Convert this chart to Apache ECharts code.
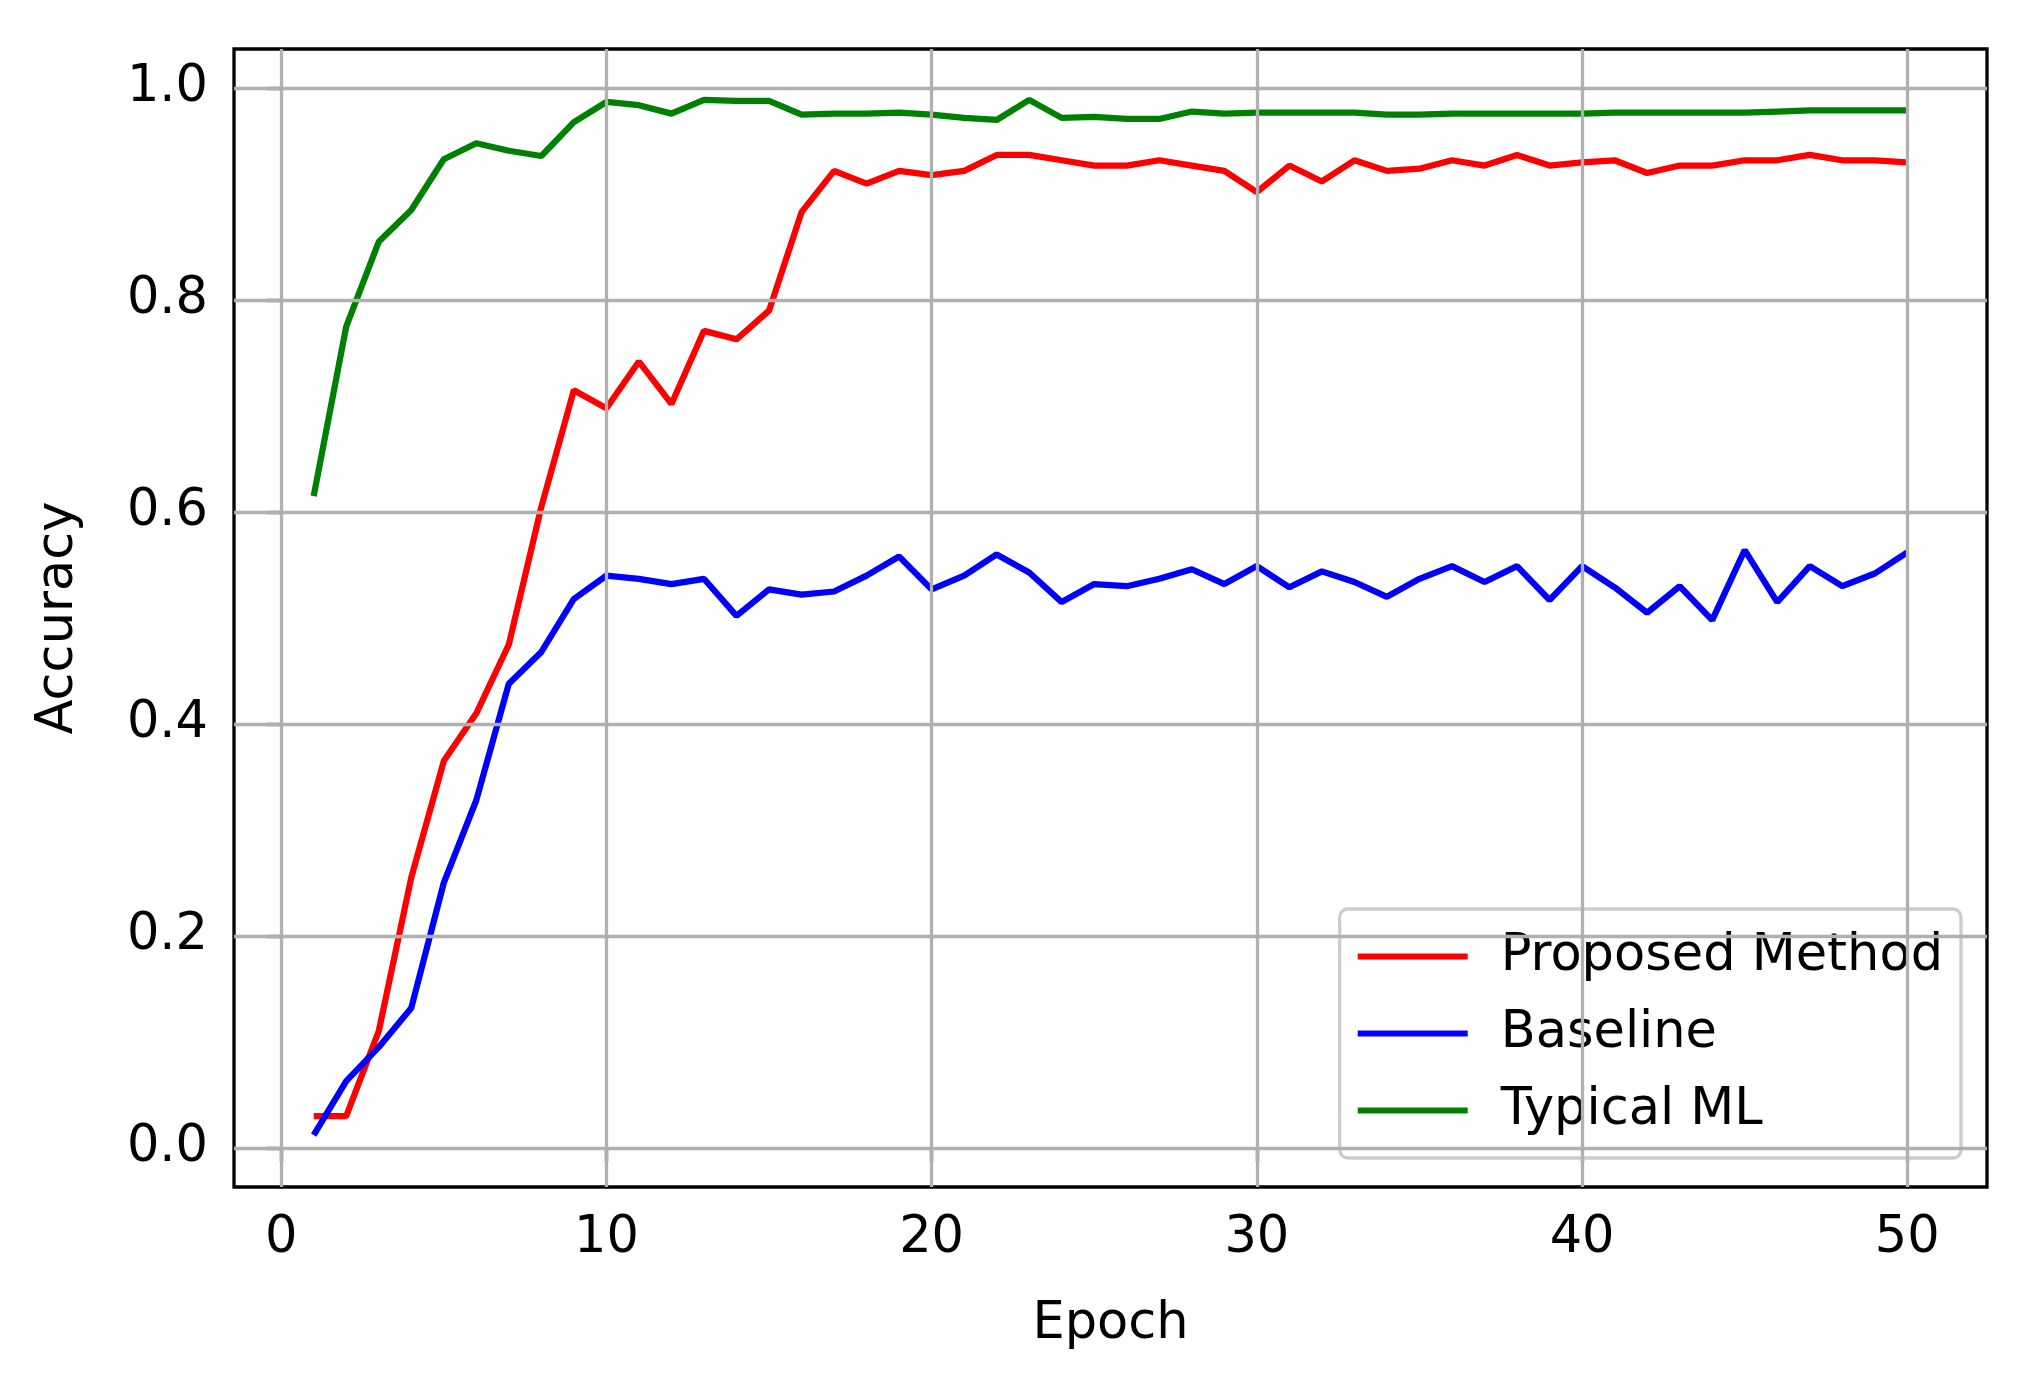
<!DOCTYPE html>
<html><head><meta charset="utf-8">
<script src="https://cdn.jsdelivr.net/npm/echarts@6/dist/echarts.min.js"></script>
<style>html,body{margin:0;padding:0;background:#fff}#c{width:2030px;height:1379px}</style>
</head><body><div id="c"></div>
<script>
const epochs = Array.from({length:50},(_,i)=>i+1);
const proposed = [0.03,0.03,0.11,0.255,0.365,0.41,0.475,0.605,0.715,0.698,0.742,0.702,0.771,0.763,0.79,0.883,0.922,0.91,0.922,0.918,0.922,0.937,0.937,0.932,0.927,0.927,0.932,0.927,0.922,0.902,0.927,0.912,0.932,0.922,0.924,0.932,0.927,0.937,0.927,0.93,0.932,0.92,0.927,0.927,0.932,0.932,0.937,0.932,0.932,0.93];
const baseline = [0.012,0.063,0.095,0.132,0.25,0.328,0.438,0.468,0.518,0.54,0.537,0.532,0.537,0.502,0.527,0.522,0.525,0.54,0.558,0.527,0.54,0.56,0.543,0.515,0.532,0.53,0.537,0.546,0.532,0.549,0.529,0.544,0.534,0.52,0.537,0.549,0.534,0.549,0.517,0.549,0.529,0.505,0.53,0.498,0.564,0.515,0.549,0.53,0.542,0.562];
const typical = [0.615,0.775,0.855,0.885,0.933,0.948,0.941,0.936,0.968,0.987,0.984,0.976,0.989,0.988,0.988,0.975,0.976,0.976,0.977,0.975,0.972,0.97,0.989,0.972,0.973,0.971,0.971,0.978,0.976,0.977,0.977,0.977,0.977,0.975,0.975,0.976,0.976,0.976,0.976,0.976,0.977,0.977,0.977,0.977,0.977,0.978,0.979,0.979,0.979,0.979];
const xTicks = [0,10,20,30,40,50];
const yTicks = [0,0.2,0.4,0.6,0.8,1.0];
const F = 'DejaVu Sans';
const FS = 51;
const chart = echarts.init(document.getElementById('c'));
const gridLine = {color:'#b0b0b0', width:3.3, type:'solid'};
chart.setOption({
  animation:false,
  grid:{left:234,right:43,top:49,bottom:192,show:true,borderColor:'#000',borderWidth:3.3,backgroundColor:'transparent'},
  xAxis:{type:'value',min:-1.45,max:52.45,name:'Epoch',nameLocation:'middle',nameGap:112,
    nameTextStyle:{fontFamily:F,fontSize:FS,color:'#000'},
    axisLine:{show:false},splitLine:{show:false},
    axisTick:{show:true,inside:false,customValues:xTicks.slice(),length:14,lineStyle:{color:'#000',width:3.3}},
    axisLabel:{customValues:xTicks.slice(),fontFamily:F,fontSize:FS,color:'#000',margin:26}},
  yAxis:{type:'value',min:-0.037,max:1.037,name:'Accuracy',nameLocation:'middle',nameGap:150,nameRotate:90,
    nameTextStyle:{fontFamily:F,fontSize:FS,color:'#000'},
    axisLine:{show:false},splitLine:{show:false},
    axisTick:{show:true,inside:false,customValues:yTicks.slice(),length:14,lineStyle:{color:'#000',width:3.3}},
    axisLabel:{customValues:yTicks.slice(),fontFamily:F,fontSize:FS,color:'#000',margin:26,formatter:v=>v.toFixed(1)}},
  legend:{orient:'vertical',right:69,bottom:221,data:['Proposed Method','Baseline','Typical ML'],
    icon:'rect',itemWidth:110,itemHeight:6,itemGap:26,
    textStyle:{fontFamily:F,fontSize:FS,color:'#000',padding:[0,0,0,28]},
    backgroundColor:'rgba(255,255,255,0.8)',borderColor:'#cccccc',borderWidth:3.3,borderRadius:8,padding:[22,18,22,18]},
  series:[
    {type:'line',data:[],silent:true,z:1,markLine:{silent:true,symbol:'none',label:{show:false},lineStyle:gridLine,
      data:[...xTicks.map(v=>({xAxis:v})),...yTicks.map(v=>({yAxis:v}))]}},
    {name:'Proposed Method',type:'line',z:3,data:epochs.map((e,i)=>[e,proposed[i]]),showSymbol:false,color:'#ff0000',lineStyle:{width:6.25,color:'#ff0000'}},
    {name:'Baseline',type:'line',z:3,data:epochs.map((e,i)=>[e,baseline[i]]),showSymbol:false,color:'#0000ff',lineStyle:{width:6.25,color:'#0000ff'}},
    {name:'Typical ML',type:'line',z:3,data:epochs.map((e,i)=>[e,typical[i]]),showSymbol:false,color:'#008000',lineStyle:{width:6.25,color:'#008000'}}
  ]
});
</script></body></html>
